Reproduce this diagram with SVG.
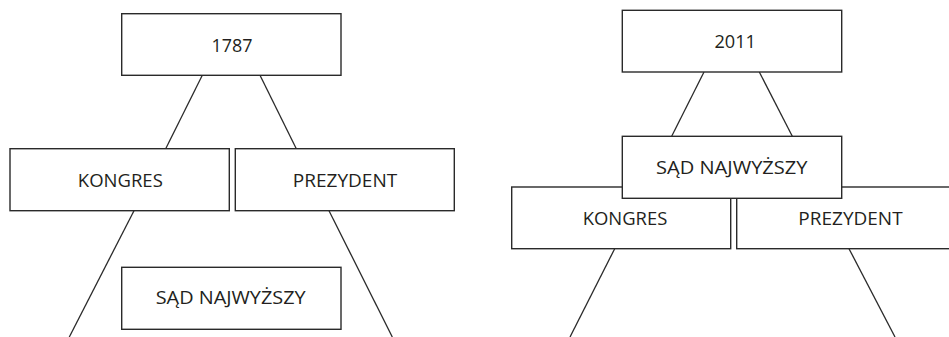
<svg xmlns="http://www.w3.org/2000/svg" width="949" height="337" viewBox="0 0 949 337">
<style>
.box{fill:#fff;stroke:#2a2a2a;stroke-width:1.4}
.ln{stroke:#2a2a2a;stroke-width:1.3;fill:none}
.t{font-family:"Open Sans","Noto Sans",sans-serif;font-size:18.5px;fill:#231f20;text-anchor:middle}
</style>
<rect width="949" height="337" fill="#fff"/>
<g id="connectors">
<line class="ln" x1="202.3" y1="75.3" x2="165.7" y2="148.7"/>
<line class="ln" x1="260" y1="75.3" x2="296.3" y2="148.7"/>
<line class="ln" x1="134" y1="210.7" x2="69.3" y2="337"/>
<line class="ln" x1="329" y1="210.7" x2="392.3" y2="337"/>
<line class="ln" x1="704" y1="72" x2="671.7" y2="136.3"/>
<line class="ln" x1="759.3" y1="72" x2="792.3" y2="136.3"/>
<line class="ln" x1="614.7" y1="248.7" x2="570" y2="337"/>
<line class="ln" x1="849" y1="248.7" x2="895" y2="337"/>
</g>
<g id="y1787">
<rect class="box" x="121.7" y="13.7" width="219.3" height="61.6"/>
<text class="t" x="232" y="51.7" textLength="41" lengthAdjust="spacingAndGlyphs">1787</text>
</g>
<g id="kongres1">
<rect class="box" x="10" y="148.7" width="219.3" height="62"/>
<text class="t" x="120.3" y="186.7" textLength="85" lengthAdjust="spacingAndGlyphs">KONGRES</text>
</g>
<g id="prezydent1">
<rect class="box" x="235.3" y="148.7" width="219" height="62"/>
<text class="t" x="345" y="186.7" textLength="104.5" lengthAdjust="spacingAndGlyphs">PREZYDENT</text>
</g>
<g id="sad1">
<rect class="box" x="121.7" y="267.3" width="219.3" height="62"/>
<text class="t" x="230.7" y="304.3" textLength="150" lengthAdjust="spacingAndGlyphs">SĄD NAJWYŻSZY</text>
</g>
<g id="y2011">
<rect class="box" x="622.3" y="10.3" width="219.4" height="61.7"/>
<text class="t" x="735.2" y="48.3" textLength="41.5" lengthAdjust="spacingAndGlyphs">2011</text>
</g>
<g id="kongres2">
<rect class="box" x="511.7" y="187" width="219" height="61.7"/>
<text class="t" x="625" y="225" textLength="84.7" lengthAdjust="spacingAndGlyphs">KONGRES</text>
</g>
<g id="prezydent2">
<rect class="box" x="736.7" y="187" width="219" height="61.7"/>
<text class="t" x="850.5" y="225" textLength="104.3" lengthAdjust="spacingAndGlyphs">PREZYDENT</text>
</g>
<g id="sad2">
<rect class="box" x="622.3" y="136.3" width="219.4" height="62"/>
<text class="t" x="731.8" y="174" textLength="151.5" lengthAdjust="spacingAndGlyphs">SĄD NAJWYŻSZY</text>
</g>
</svg>
